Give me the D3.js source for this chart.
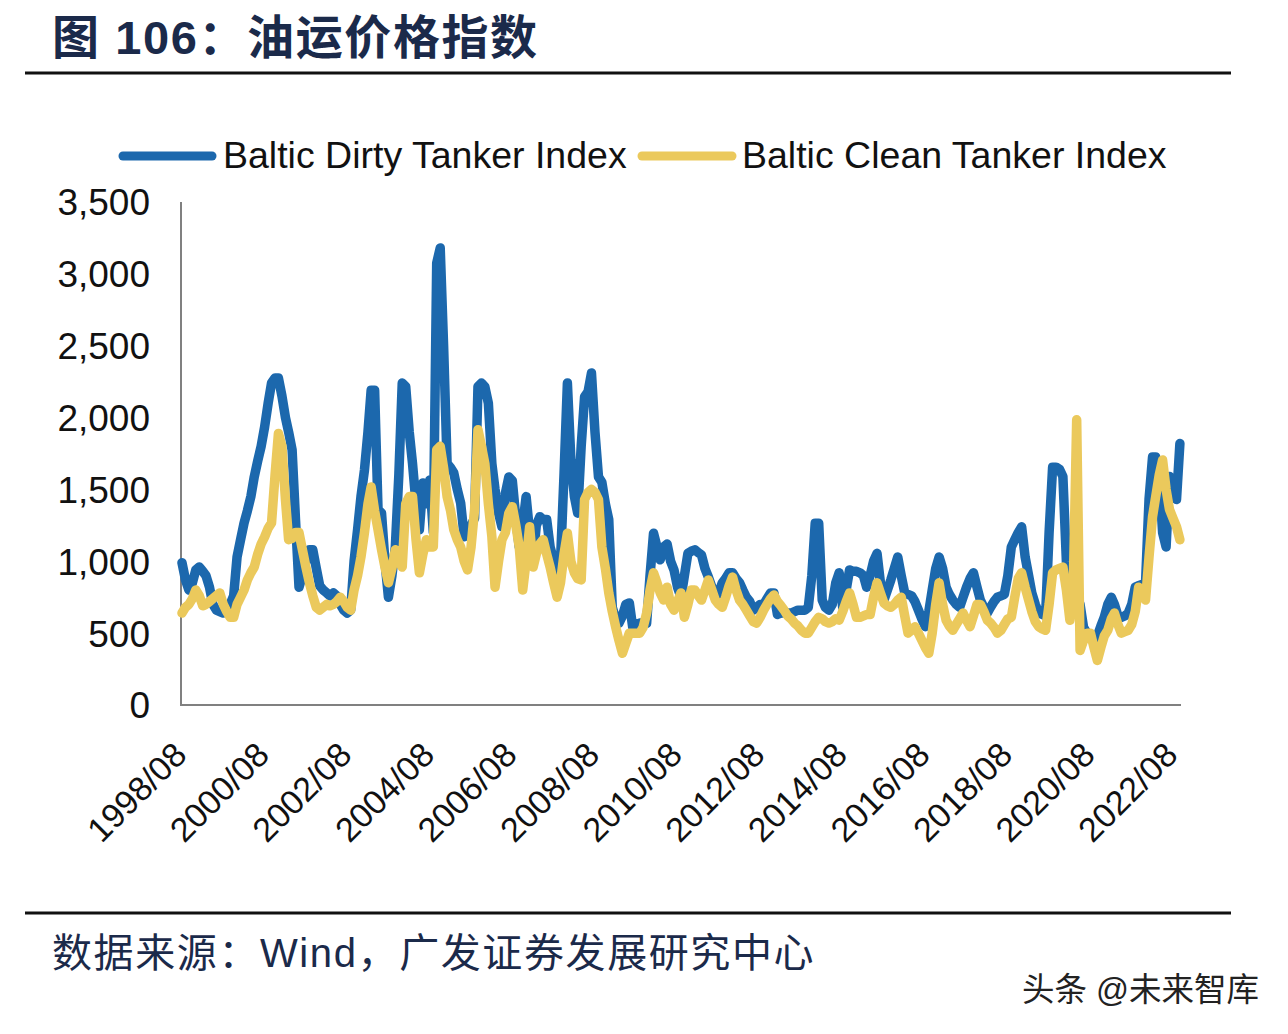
<!DOCTYPE html>
<html><head><meta charset="utf-8">
<script src="https://cdn.jsdelivr.net/npm/d3@7"></script>
<style>
html,body{margin:0;padding:0;background:#fff;}
svg{display:block;}
</style></head>
<body>
<svg id="chart" width="1288" height="1034"></svg>
<script>
const titleText = "图 106：油运价格指数";
const sourceText = "数据来源：Wind，广发证券发展研究中心";
const watermarkText = "头条 @未来智库";
const seriesNames = ["Baltic Dirty Tanker Index", "Baltic Clean Tanker Index"];
const startMonth = "1998/08";
const xTickLabels = ["1998/08","2000/08","2002/08","2004/08","2006/08","2008/08","2010/08","2012/08","2014/08","2016/08","2018/08","2020/08","2022/08"];
const yTickValues = [0,500,1000,1500,2000,2500,3000,3500];

// monthly values from 1998/08
const dirty = [
990,870,800,850,940,960,930,900,820,700,660,650,
640,660,700,760,1030,1150,1267,1350,1450,1587,1700,1800,
1935,2100,2240,2275,2275,2150,2000,1900,1775,1290,820,900,
1000,1080,1080,950,830,800,780,760,780,760,700,660,
640,660,1000,1220,1450,1635,1900,2190,2190,1360,1335,1000,
750,900,1100,1600,2240,2215,1900,1680,1400,1220,1545,1400,
1565,1200,3075,3180,2500,1680,1650,1615,1500,1405,1170,1200,
1250,1300,2215,2240,2215,2100,1680,1500,1335,1240,1475,1587,
1560,1300,1100,1250,1450,1200,1010,1250,1310,1290,1290,1100,
1010,920,1000,1600,2240,1705,1450,1335,1800,2145,2180,2310,
1900,1587,1550,1400,1290,680,600,570,620,700,710,540,
560,570,570,570,900,1195,1100,1010,1100,1120,1000,940,
820,750,900,1055,1070,1080,1060,1045,950,890,820,750,
780,850,880,920,920,880,850,800,750,720,660,680,
700,700,740,780,780,630,640,640,640,640,650,660,
660,660,680,900,1265,1265,730,680,660,700,850,920,
680,800,940,930,930,920,900,820,900,1000,1055,850,
730,800,870,950,1030,900,780,770,760,720,660,600,
545,650,800,950,1030,950,820,770,730,700,680,750,
820,880,920,820,730,680,640,680,720,750,760,770,
900,1100,1150,1200,1240,1030,900,780,700,640,630,620,
1200,1655,1655,1640,1590,1000,680,700,760,700,540,500,
470,450,480,550,610,700,750,700,620,610,620,640,
700,820,830,840,850,1430,1725,1725,1590,1200,1100,1590,
1500,1430,1820];

const clean = [
640,680,700,740,800,760,690,700,720,740,760,780,
700,650,610,610,700,750,800,870,920,960,1050,1120,
1170,1230,1267,1600,1890,1800,1430,1150,1160,1200,1200,1080,
960,850,760,680,660,680,700,690,700,720,750,720,
680,660,800,900,1030,1200,1400,1517,1350,1220,1080,960,
850,950,1080,1000,960,1400,1450,1450,1150,920,1050,1150,
1100,1100,1775,1800,1650,1450,1350,1220,1150,1100,1000,940,
1100,1360,1915,1800,1680,1400,1170,820,1000,1150,1200,1335,
1380,1250,1100,800,1000,1240,960,1050,1120,1150,1050,960,
850,750,850,1050,1195,1000,920,880,870,1430,1480,1500,
1480,1430,1100,950,780,650,540,450,360,430,500,500,
500,500,540,640,800,920,850,780,730,820,700,660,
720,780,610,700,800,800,760,730,800,870,800,730,
700,680,750,830,890,800,730,700,660,620,580,570,
610,660,700,740,765,720,690,660,620,600,570,550,
520,500,500,540,580,610,600,580,570,580,600,590,
650,720,780,700,610,610,620,630,630,750,850,780,
710,690,680,700,730,750,620,500,520,545,500,450,
400,360,500,700,850,700,590,550,520,560,600,640,
590,545,620,700,700,650,590,570,540,500,520,560,
600,610,750,880,920,820,730,650,580,545,530,520,
700,920,940,950,960,800,590,800,1985,380,450,500,
500,400,310,400,480,520,600,640,560,500,510,520,
560,650,820,780,730,1030,1310,1450,1600,1705,1500,1360,
1300,1240,1150];

const colors = ["#1c68ad", "#ebc95c"];
const latin = "'Liberation Sans', Arial, 'Noto Sans CJK SC', sans-serif";

const svg = d3.select("#chart");
svg.append("rect").attr("width",1288).attr("height",1034).attr("fill","#fff");

const parse = d3.timeParse("%Y/%m");
const fmt = d3.timeFormat("%Y/%m");
const t0 = parse(startMonth);
const dates = dirty.map((_, i) => d3.timeMonth.offset(t0, i));

const x = d3.scaleTime()
  .domain([t0, parse("2022/08")])
  .range([182, 1173]);
const y = d3.scaleLinear().domain([0, 3500]).range([705, 202]);

// title
svg.append("text").attr("x", 52).attr("y", 54)
  .attr("font-family", latin).attr("font-weight", "bold").attr("font-size", 47)
  .attr("letter-spacing", 1.6)
  .attr("fill", "#1b2a4a").text(titleText);
svg.append("line").attr("x1", 25).attr("x2", 1231).attr("y1", 73).attr("y2", 73)
  .attr("stroke", "#111").attr("stroke-width", 3);

// axes
const xAxis = d3.axisBottom(x)
  .tickValues(xTickLabels.map(parse))
  .tickFormat(fmt).tickSize(0).tickSizeOuter(0);
const gx = svg.append("g").attr("transform", "translate(0,705)").call(xAxis);
gx.select(".domain").remove();
gx.selectAll("text")
  .attr("font-family", latin).attr("font-size", 34).attr("fill", "#111")
  .attr("text-anchor", "end")
  .attr("transform", "translate(6,52) rotate(-45)")
  .attr("dy", 0).attr("y", 0).attr("x", 0);

const yAxis = d3.axisLeft(y).tickValues(yTickValues)
  .tickFormat(d3.format(",")).tickSize(0).tickSizeOuter(0);
const gy = svg.append("g").attr("transform", "translate(181,0)").call(yAxis);
gy.select(".domain").remove();
gy.selectAll("text")
  .attr("font-family", latin).attr("font-size", 37).attr("fill", "#111")
  .attr("x", -31).attr("dy", "0.35em");

svg.append("line").attr("x1", 181).attr("x2", 181).attr("y1", 202).attr("y2", 706)
  .attr("stroke", "#808080").attr("stroke-width", 2);
svg.append("line").attr("x1", 180).attr("x2", 1181).attr("y1", 705).attr("y2", 705)
  .attr("stroke", "#808080").attr("stroke-width", 2);

// lines
const line = d3.line().x((d, i) => x(dates[i])).y(d => y(d)).curve(d3.curveLinear);
[dirty, clean].forEach((s, k) => {
  svg.append("path").datum(s).attr("d", line)
    .attr("fill", "none").attr("stroke", colors[k]).attr("stroke-width", 9.5)
    .attr("stroke-linejoin", "round").attr("stroke-linecap", "round");
});

// legend
const legendPos = [{lx1: 123, lx2: 212, tx: 223}, {lx1: 642, lx2: 732, tx: 742}];
legendPos.forEach((p, k) => {
  svg.append("line").attr("x1", p.lx1).attr("x2", p.lx2).attr("y1", 156).attr("y2", 156)
    .attr("stroke", colors[k]).attr("stroke-width", 9).attr("stroke-linecap", "round");
  svg.append("text").attr("x", p.tx).attr("y", 168)
    .attr("font-family", latin).attr("font-size", 37.5).attr("fill", "#111")
    .text(seriesNames[k]);
});

// bottom
svg.append("line").attr("x1", 25).attr("x2", 1231).attr("y1", 913).attr("y2", 913)
  .attr("stroke", "#111").attr("stroke-width", 3);
svg.append("text").attr("x", 52).attr("y", 967)
  .attr("font-family", latin).attr("font-size", 40).attr("letter-spacing", 1.6)
  .attr("fill", "#1b2a4a")
  .text(sourceText);
svg.append("text").attr("x", 1022).attr("y", 1001)
  .attr("font-family", latin).attr("font-size", 32.5).attr("fill", "#222")
  .text(watermarkText);
</script>
</body></html>
